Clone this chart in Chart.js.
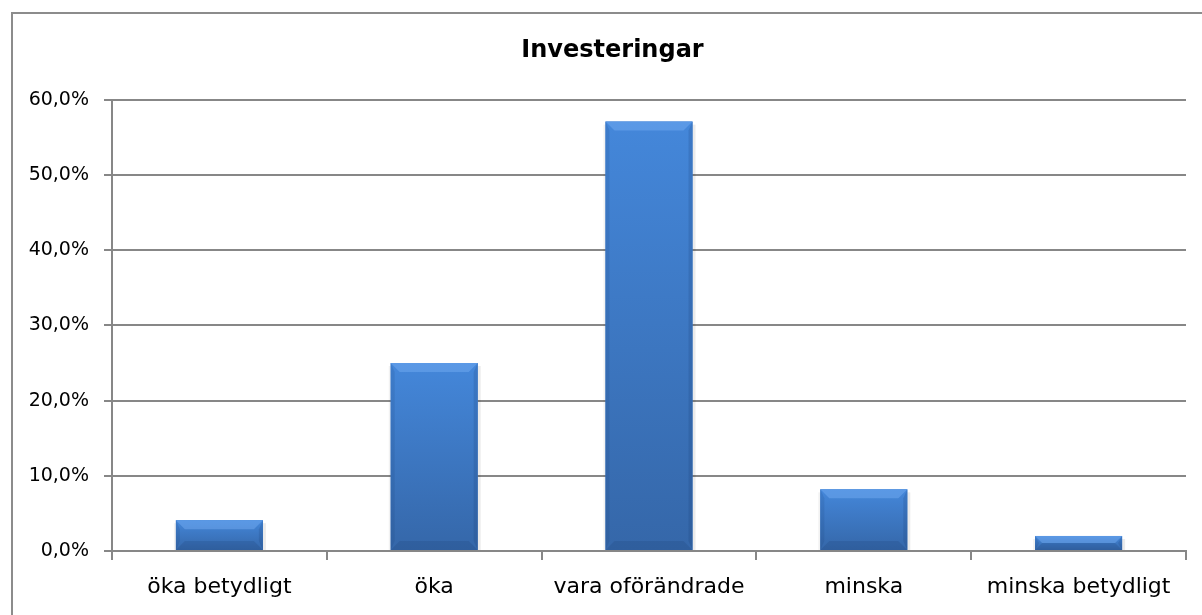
<!DOCTYPE html>
<html>
<head>
<meta charset="utf-8">
<script src="https://cdn.jsdelivr.net/npm/chart.js@4.4.1/dist/chart.umd.min.js"></script>
<style>
  html, body { margin: 0; padding: 0; background: #ffffff; }
  #wrap { width: 1202px; height: 615px; position: relative; }
</style>
</head>
<body>
<div id="wrap"><canvas id="c" width="1202" height="615"></canvas></div>
<script>
const chartTitle = "Investeringar";
const categories = ["öka betydligt", "öka", "vara oförändrade", "minska", "minska betydligt"];
const values = [4.1, 25.0, 57.1, 8.2, 2.0];
const yTicks = [0, 10, 20, 30, 40, 50, 60];
const yTickLabels = ["0,0%", "10,0%", "20,0%", "30,0%", "40,0%", "50,0%", "60,0%"];

const FONT = "'DejaVu Sans', sans-serif";
const GRID = "#878787";

// Outer chart frame (extends past window on right/bottom like the reference)
const framePlugin = {
  id: "frame",
  beforeDraw(chart) {
    const c = chart.ctx;
    c.save();
    c.fillStyle = "#ffffff";
    c.fillRect(0, 0, chart.width, chart.height);
    c.strokeStyle = "#8c8c8c";
    c.lineWidth = 2;
    c.strokeRect(12, 13, chart.width + 20, chart.height + 20);
    c.restore();
  }
};

// Bevelled bar look, drawn from the bar elements the library laid out
const bevelPlugin = {
  id: "bevel",
  afterDatasetDraw(chart, args) {
    const meta = args.meta;
    const c = chart.ctx;
    c.save();
    meta.data.forEach((bar) => {
      const p = bar.getProps(["x", "y", "base", "width"], true);
      const l = p.x - p.width / 2, r = p.x + p.width / 2;
      const t = Math.min(p.y, p.base), b = Math.max(p.y, p.base);
      const h = b - t;
      if (h <= 0) return;
      // shadow
      c.fillStyle = "rgba(0,0,0,0.08)";
      c.fillRect(r, t + 3, 3, h - 3);
      c.fillStyle = "rgba(0,0,0,0.05)";
      c.fillRect(l - 2, t + 3, 2, h - 3);
      // face
      const g = c.createLinearGradient(0, t, 0, b);
      g.addColorStop(0, "#4487da");
      g.addColorStop(1, "#3567a9");
      c.fillStyle = g;
      c.fillRect(l, t, p.width, h);
      const bv = Math.min(9, h / 2);
      // top bevel (light)
      c.fillStyle = "rgba(120,175,245,0.45)";
      c.beginPath();
      c.moveTo(l, t); c.lineTo(r, t); c.lineTo(r - bv, t + bv); c.lineTo(l + bv, t + bv); c.closePath();
      c.fill();
      // bottom bevel (dark)
      c.fillStyle = "rgba(20,50,100,0.16)";
      c.beginPath();
      c.moveTo(l, b); c.lineTo(r, b); c.lineTo(r - bv, b - bv); c.lineTo(l + bv, b - bv); c.closePath();
      c.fill();
      // side bevels
      c.fillStyle = "rgba(20,50,100,0.12)";
      c.beginPath();
      c.moveTo(l, t); c.lineTo(l + 4, t + bv); c.lineTo(l + 4, b - bv); c.lineTo(l, b); c.closePath();
      c.fill();
      c.fillStyle = "rgba(20,50,100,0.16)";
      c.beginPath();
      c.moveTo(r, t); c.lineTo(r - 4, t + bv); c.lineTo(r - 4, b - bv); c.lineTo(r, b); c.closePath();
      c.fill();
    });
    c.restore();
  }
};

new Chart(document.getElementById("c"), {
  type: "bar",
  data: {
    labels: categories,
    datasets: [{
      data: values,
      backgroundColor: "#3f7cc9",
      borderWidth: 0,
      categoryPercentage: 1.0,
      barPercentage: 0.405
    }]
  },
  options: {
    responsive: false,
    animation: false,
    devicePixelRatio: 1,
    layout: { padding: { left: 11, right: -12, top: 0, bottom: 0 } },
    plugins: {
      legend: { display: false },
      tooltip: { enabled: false },
      title: {
        display: true,
        text: chartTitle,
        color: "#000000",
        font: { family: FONT, size: 24, weight: "bold" },
        padding: { top: 36, bottom: 35 }
      }
    },
    scales: {
      x: {
        grid: { display: true, drawOnChartArea: false, offset: true, tickLength: 9, color: GRID, lineWidth: 2 },
        border: { display: true, color: GRID, width: 2 },
        ticks: { color: "#000000", font: { family: FONT, size: 22 }, padding: 14, maxRotation: 0, autoSkip: false },
        afterFit(scale) { scale.height = 64; }
      },
      y: {
        min: 0,
        max: 60,
        afterBuildTicks(scale) { scale.ticks = yTicks.map(v => ({ value: v })); },
        grid: { color: GRID, lineWidth: 2, tickLength: 8 },
        border: { display: true, color: GRID, width: 2 },
        ticks: {
          color: "#000000",
          font: { family: FONT, size: 19 },
          padding: 15,
          callback: (v) => yTickLabels[yTicks.indexOf(v)]
        },
        afterFit(scale) { scale.width = 101; }
      },
      yRightSpace: {
        type: "linear",
        position: "right",
        display: true,
        grid: { display: false },
        border: { display: false },
        ticks: { display: false },
        afterFit(scale) { scale.width = 28; }
      }
    }
  },
  plugins: [framePlugin, bevelPlugin]
});
</script>
</body>
</html>
